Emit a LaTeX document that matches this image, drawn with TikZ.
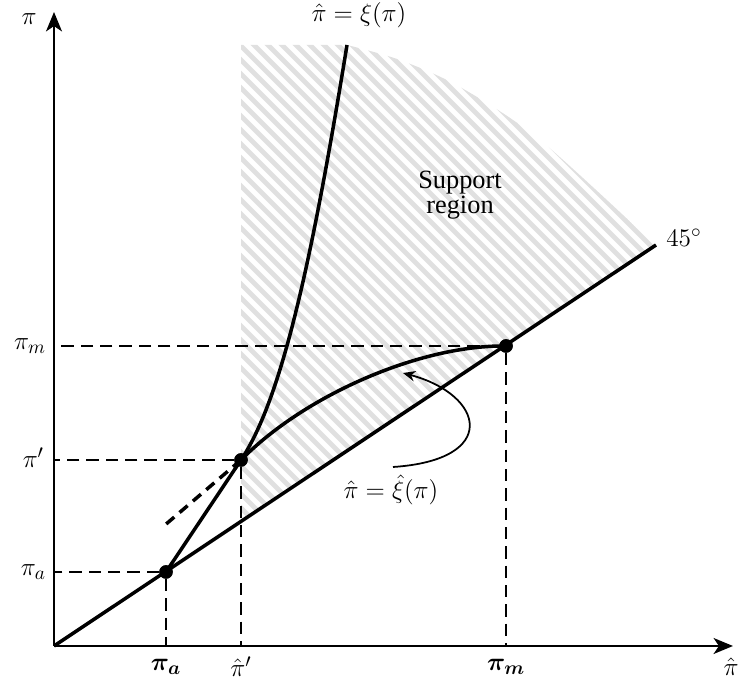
\documentclass[tikz,border=0pt]{standalone}
\usepackage[no-math]{fontspec}
\setmainfont{Liberation Serif}
\usepackage{amsmath, amssymb, bm}
\usepackage{tikz}
\usetikzlibrary{arrows.meta, positioning, calc}

\begin{document}
\begin{tikzpicture}[x=0.02cm, y=0.02cm,
  dot/.style={circle, fill=black, minimum size=0.27cm, inner sep=0pt},
  axis/.style={-{Stealth[length=11pt, width=9pt, inset=3pt]}, line width=1.6pt},
  curve/.style={line width=2pt},
  guide/.style={line width=1pt, dash pattern=on 7pt off 4pt},
  lbl/.style={font=\fontsize{15}{17}\selectfont, inner sep=1pt}
]
  \useasboundingbox (0,0) rectangle (740,685);

  % --- Support region (hatched) ---
  \begin{scope}
    \clip (241,640) -- (241,163) -- (655,440)
      -- plot[smooth] coordinates {(655,440) (540,545) (460,598) (400,625) (347,640)} -- cycle;
    \foreach \c in {390,404,...,1110}
      \draw[black!12, line width=2.7pt] (\c-700,700) -- (\c,0);
  \end{scope}
  \node[lbl, align=center] (supp) at (460,490) {Support\\[-3pt]region};

  % --- Axes ---
  \coordinate (O) at (54,39);
  \coordinate (xend) at (733,39);
  \coordinate (yend) at (54,673);
  \node[lbl] (xlbl) at (731,18) {$\hat{\pi}$};
  \node[lbl] (ylbl) at (29,666) {$\pi$};

  % --- Points ---
  \node[dot] (pa) at (166,113) {};
  \node[dot] (pp) at (241,225) {};
  \node[dot] (pm) at (506,339) {};

  % --- Guides ---
  \draw[guide] (pa) -- (pa -| O);
  \draw[guide] (pa) -- (pa |- O);
  \draw[guide] (pp) -- (pp -| O);
  \draw[guide] (pp) -- (pp |- O);
  \draw[guide] (pm) -- (pm -| O);
  \draw[guide] (pm) -- (pm |- O);
  \node[lbl, anchor=east] (yma) at (48,113) {$\pi_a$};
  \node[lbl, anchor=east] (ymp) at (46,227) {$\pi'$};
  \node[lbl, anchor=east] (ymm) at (48,339) {$\pi_m$};
  \node[lbl] (xma) at (166,18) {$\boldsymbol{\pi_a}$};
  \node[lbl] (xmp) at (241,18) {$\hat{\pi}'$};
  \node[lbl] (xmm) at (506,18) {$\boldsymbol{\pi_m}$};

  \draw[axis] (O) -- (xend);
  \draw[axis] (O) -- (yend);

  % --- 45 degree line ---
  \coordinate (d45) at (656,440);
  \draw[curve] (O) -- (d45);
  \node[lbl] (l45) at (684,447) {$45^\circ$};

  % --- xi curve ---
  \coordinate (xitop) at (347,640);
  \draw[curve] (pa.center) -- (pp.center) .. controls (281,285) and (311,418) .. (xitop);
  \node[lbl] (xilbl) at (359,670) {$\hat{\pi} = \xi(\pi)$};

  % --- xi hat curve ---
  \coordinate (tanend) at (165,160);
  \draw[curve, dash pattern=on 6pt off 4pt] (pp.center) -- (tanend);
  \draw[curve] (pp.center) .. controls (305,290) and (420,340) .. (pm.center);
  \node[lbl] (xihat) at (391,195) {$\hat{\pi} = \hat{\xi}(\pi)$};
  \coordinate (arrs) at (393,218);
  \coordinate (arre) at (403,312);
  \draw[-{Stealth[length=7pt, width=6pt]}, line width=1pt] (arrs) .. controls (500,225) and (485,290) .. (arre);

  \node[dot] at (pa) {};
  \node[dot] at (pp) {};
  \node[dot] at (pm) {};
\end{tikzpicture}
\end{document}
